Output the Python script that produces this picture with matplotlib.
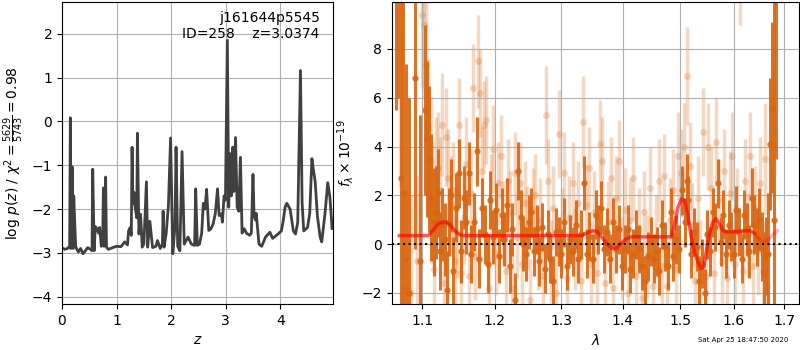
import numpy as np
import matplotlib
matplotlib.use("Agg")
import matplotlib.pyplot as plt
from matplotlib.ticker import FixedLocator, FixedFormatter, NullLocator

# --- p(z) curve (left) ---
zgrid = [0.00, 0.05, 0.10, 0.14, 0.153, 0.16, 0.18, 0.19, 0.205, 0.215, 0.25, 0.265,
         0.30, 0.34, 0.385, 0.43, 0.47, 0.52, 0.55, 0.563, 0.59, 0.61, 0.64, 0.67, 0.69,
         0.72, 0.745, 0.758, 0.77, 0.79, 0.80, 0.815, 0.85, 0.93, 1.00, 1.08, 1.15, 1.20,
         1.22, 1.25, 1.27, 1.284, 1.30, 1.32, 1.34, 1.37, 1.382, 1.41, 1.44, 1.47, 1.50,
         1.547, 1.57, 1.61, 1.66, 1.72, 1.75, 1.80, 1.84, 1.853, 1.87, 1.91, 1.95, 1.99,
         2.03, 2.07, 2.09, 2.12, 2.16, 2.20, 2.24, 2.31, 2.37, 2.43, 2.45, 2.48, 2.52,
         2.56, 2.59, 2.62, 2.65, 2.69, 2.73, 2.77, 2.81, 2.85, 2.88, 2.92, 2.94, 2.97,
         2.995, 3.03, 3.055, 3.08, 3.105, 3.13, 3.15, 3.18, 3.21, 3.24, 3.27, 3.30, 3.34,
         3.38, 3.44, 3.47, 3.50, 3.52, 3.545, 3.56, 3.61, 3.66, 3.73, 3.81, 3.86, 3.96,
         4.02, 4.05, 4.09, 4.12, 4.18, 4.24, 4.28, 4.32, 4.37, 4.40, 4.43, 4.50, 4.54,
         4.58, 4.60, 4.64, 4.68, 4.73, 4.76, 4.82, 4.87, 4.91, 4.95, 4.97]
logpz = [-2.88, -2.92, -2.9, -2.85, 0.08, -2.9, -2.85, -1.04, -2.9, -1.7, -2.85, -2.9,
         -2.98, -2.9, -3.02, -2.95, -2.88, -2.92, -2.95, -1.09, -2.95, -2.4, -2.45, -2.55,
         -2.42, -2.85, -2.8, -1.52, -2.85, -2.8, -1.27, -2.87, -2.92, -2.88, -2.85, -2.86,
         -2.75, -2.82, -2.5, -2.42, -2.6, -0.59, -1.88, -1.62, -1.96, -2.2, -0.27, -2.57,
         -2.12, -2.87, -2.8, -1.38, -2.87, -2.28, -2.88, -2.85, -2.72, -2.9, -2.8, -2.05,
         -2.87, -2.55, -1.92, -0.38, -3.02, -2.4, -0.59, -2.85, -2.95, -0.69, -2.8, -2.64,
         -2.8, -2.83, -1.54, -2.83, -2.8, -2.55, -1.87, -2.0, -1.55, -2.49, -2.45, -2.34,
         -2.1, -1.54, -2.15, -2.11, -2.3, -1.7, -1.8, 1.85, -1.96, -0.74, -1.7, -0.59,
         -1.6, -0.37, -1.96, -2.05, -0.82, -2.55, -2.45, -2.55, -2.6, -2.55, -1.21,
         -2.15, -2.25, -2.1, -2.8, -2.85, -2.64, -2.53, -2.67, -2.57, -2.5, -2.3, -1.95,
         -1.87, -2.0, -2.5, -2.57, -2.3, 1.16, -1.85, -2.5, -2.42, -2.1, -0.85, -1.04,
         -1.38, -2.15, -2.64, -2.75, -2.1, -1.4, -1.73, -2.45, -2.3]

# --- spectrum, first set (dark points) ---
wave1 = [1.066, 1.068, 1.072, 1.075, 1.079, 1.083, 1.090, 1.097, 1.103, 1.106, 1.109,
         1.112, 1.115, 1.118, 1.121, 1.124, 1.127, 1.130, 1.133, 1.136, 1.139, 1.142,
         1.146, 1.149, 1.152, 1.156, 1.160, 1.164, 1.167, 1.171, 1.175, 1.178, 1.182,
         1.186, 1.190, 1.194, 1.198, 1.202, 1.206, 1.210, 1.214, 1.218, 1.222, 1.226,
         1.230, 1.234, 1.238, 1.242, 1.246, 1.250, 1.254, 1.258, 1.262, 1.266, 1.270,
         1.275, 1.279, 1.283, 1.288, 1.292, 1.296, 1.300, 1.305, 1.309, 1.314, 1.318,
         1.323, 1.327, 1.332, 1.336, 1.341, 1.345, 1.350, 1.355, 1.359, 1.364, 1.369,
         1.373, 1.378, 1.383, 1.388, 1.393, 1.398, 1.403, 1.408, 1.413, 1.418, 1.423,
         1.428, 1.433, 1.438, 1.443, 1.448, 1.453, 1.458, 1.463, 1.468, 1.473, 1.478,
         1.483, 1.488, 1.493, 1.498, 1.503, 1.508, 1.512, 1.515, 1.520, 1.525, 1.530,
         1.535, 1.540, 1.545, 1.550, 1.555, 1.560, 1.565, 1.570, 1.575, 1.580, 1.585,
         1.590, 1.595, 1.600, 1.605, 1.610, 1.615, 1.620, 1.625, 1.630, 1.635, 1.640,
         1.645, 1.650, 1.655, 1.660, 1.664, 1.668, 1.671, 1.675, 1.679, 1.683]
flux1 = [11.5, 12.0, 2.7, 2.1, -0.6, -2.0, 6.8, -0.7, 5.5, 4.3, 3.5, 1.9, 0.9, 1.3, 2.1,
         -0.3, 0.8, 0.2, -1.9, 0.9, 2.0, -1.1, 1.5, 2.9, -0.3, 1.9, 0.9, 2.9, -0.4, 0.9,
         3.8, -0.6, 1.5, 0.4, -0.8, 1.8, 0.3, 1.4, -0.5, 1.2, 0.2, 1.6, -0.9, 0.6, -2.3,
         3.0, 1.1, 0.0, -0.4, 0.9, 1.3, -0.3, 0.6, -0.7, 0.7, -1.0, 0.4, -0.6, -1.5, 0.5,
         0.1, -0.4, 0.9, -0.9, 0.2, -0.3, 0.8, -0.6, 0.4, 2.5, -0.4, 0.3, -0.6, 1.2, 0.6,
         1.5, -0.2, 0.5, -0.6, 0.9, -0.2, 0.6, -0.9, -0.2, 0.6, -1.0, -0.4, 0.4, -0.2,
         -0.9, -1.5, -0.5, 0.1, -0.6, -0.3, -1.1, 0.8, -0.1, -0.9, 1.3, -0.5, 0.2, -0.2,
         2.2, 0.9, 2.6, 1.8, -0.4, 0.5, -0.1, -1.5, -0.8, -2.0, 0.4, -0.3, 1.3, 0.7, 2.5,
         0.1, 1.2, -0.4, 0.8, 0.3, -0.4, 1.4, 0.5, -0.6, 1.2, 0.6, -0.3, 1.9, 0.8, 0.3,
         1.0, -0.1, -1.2, -0.5, -0.4, 4.1, 5.6, 1.0, 11.0]
err1 = [6.0, 6.0, 9.0, 8.0, 8.0, 8.0, 7.0, 6.0, 3.5, 3.2, 3.0, 2.6, 2.2, 1.9, 1.8, 1.6,
        1.5, 1.5, 1.6, 1.4, 1.5, 1.4, 1.4, 1.4, 1.3, 1.3, 1.3, 1.3, 1.2, 1.2, 1.4, 1.2,
        1.2, 1.2, 1.2, 1.2, 1.1, 1.1, 1.1, 1.1, 1.1, 1.1, 1.1, 1.1, 1.1, 1.2, 1.1, 1.1,
        1.1, 1.1, 1.0, 1.0, 1.0, 1.0, 1.0, 1.0, 1.0, 1.0, 1.0, 1.0, 1.0, 1.0, 1.0, 1.0,
        1.0, 1.0, 1.0, 1.0, 1.0, 1.1, 1.0, 1.0, 1.0, 1.0, 1.0, 1.1, 1.0, 1.0, 1.0, 1.0,
        1.0, 1.0, 1.0, 1.0, 1.0, 1.0, 1.0, 1.0, 1.0, 1.0, 1.0, 1.0, 1.0, 1.0, 1.0, 1.0,
        1.0, 1.0, 1.0, 1.0, 1.0, 1.0, 1.0, 1.0, 1.0, 1.1, 1.0, 1.0, 1.0, 1.0, 1.0, 1.0,
        1.0, 1.0, 1.0, 1.0, 1.0, 1.0, 1.0, 1.0, 1.0, 1.0, 1.0, 1.0, 1.0, 1.0, 1.0, 1.0,
        1.1, 1.1, 1.2, 1.2, 1.2, 1.3, 1.4, 1.7, 1.6, 2.5, 2.7, 3.5, 11.0, 7.5]

# --- spectrum, second set (light points) ---
wave2 = [1.071, 1.076, 1.080, 1.085, 1.093, 1.100, 1.102, 1.105, 1.108, 1.111, 1.113,
         1.116, 1.118, 1.121, 1.124, 1.127, 1.129, 1.132, 1.135, 1.138, 1.141, 1.144,
         1.147, 1.150, 1.153, 1.157, 1.160, 1.163, 1.166, 1.169, 1.172, 1.176, 1.179,
         1.182, 1.185, 1.188, 1.192, 1.195, 1.198, 1.202, 1.205, 1.209, 1.212, 1.216,
         1.219, 1.223, 1.226, 1.230, 1.233, 1.237, 1.240, 1.244, 1.248, 1.252, 1.256,
         1.260, 1.264, 1.268, 1.272, 1.276, 1.280, 1.284, 1.288, 1.292, 1.297, 1.301,
         1.305, 1.309, 1.313, 1.318, 1.322, 1.326, 1.331, 1.335, 1.339, 1.344, 1.348,
         1.353, 1.357, 1.362, 1.366, 1.371, 1.375, 1.380, 1.384, 1.389, 1.393, 1.398,
         1.403, 1.408, 1.412, 1.417, 1.422, 1.427, 1.432, 1.437, 1.442, 1.447, 1.452,
         1.457, 1.462, 1.467, 1.472, 1.477, 1.482, 1.487, 1.492, 1.497, 1.502, 1.507,
         1.512, 1.517, 1.522, 1.527, 1.532, 1.537, 1.542, 1.547, 1.552, 1.557, 1.562,
         1.567, 1.572, 1.577, 1.582, 1.587, 1.592, 1.597, 1.602, 1.607, 1.612, 1.617,
         1.622, 1.627, 1.632, 1.637, 1.642, 1.647, 1.652, 1.657, 1.662, 1.666]
flux2 = [8.3, -1.7, -1.8, -2.0, -0.7, 9.4, 9.0, 7.3, 4.8, 3.4, 1.7, -1.0, 2.8, 3.1, 2.2,
         4.9, -1.6, 4.4, 2.7, 1.6, 2.2, -0.7, 0.5, 4.9, -1.2, 1.1, 3.3, -1.3, 2.1, 6.4,
         -0.5, 7.5, 6.2, 3.0, 4.9, 5.1, -1.8, 1.9, 3.9, -0.4, 2.5, 3.6, 0.9, -1.1, 2.6,
         1.3, -1.8, 2.9, 0.3, 2.5, -0.8, 1.7, 0.7, -2.3, 1.4, 2.0, -0.2, 1.0, -1.3, 5.3,
         2.6, -0.7, 1.5, -2.0, 4.5, 0.6, 2.9, -1.4, 1.1, 2.5, -0.2, 1.7, -1.5, 5.0, 1.6,
         3.1, -0.8, 1.3, -1.2, 4.1, 3.4, -1.6, 0.9, 2.7, -1.8, 1.9, 3.4, -0.6, 1.4, -2.0,
         1.0, 2.7, -1.3, 0.6, -2.2, 1.3, -0.5, 2.3, -1.7, 0.3, 2.6, -0.9, 2.8, -1.7, 1.0,
         2.2, -1.0, 3.6, 2.9, 4.0, 6.9, 3.2, 0.8, -1.5, 1.9, -0.7, 4.6, -1.3, 4.0, 2.3,
         -1.2, 4.2, 1.8, -0.7, 3.0, -1.4, 2.1, 3.6, -0.8, 1.4, 11.0, -1.1, 2.6, 0.4, 3.6,
         -0.9, 1.5, -0.3, 2.5, -1.1, 3.5, -1.7]
err2 = [6.0, 4.0, 4.0, 4.0, 3.5, 3.0, 3.0, 3.0, 2.8, 2.6, 2.5, 2.4, 2.4, 2.3, 2.2, 2.1,
        2.1, 2.0, 2.0, 2.0, 2.0, 1.9, 1.9, 1.9, 1.9, 1.9, 1.9, 1.8, 1.8, 1.8, 1.8, 1.9,
        1.8, 1.8, 1.8, 1.8, 1.8, 1.8, 1.8, 1.7, 1.7, 1.7, 1.7, 1.7, 1.7, 1.7, 1.7, 1.7,
        1.7, 1.7, 1.7, 1.7, 1.7, 1.7, 1.7, 1.7, 1.7, 1.7, 1.7, 2.0, 1.7, 1.7, 1.7, 1.7,
        1.8, 1.7, 1.7, 1.7, 1.7, 1.7, 1.7, 1.7, 1.7, 1.9, 1.7, 1.7, 1.7, 1.7, 1.7, 1.8,
        1.8, 1.7, 1.7, 1.7, 1.7, 1.7, 1.7, 1.7, 1.7, 1.7, 1.7, 1.7, 1.7, 1.7, 1.7, 1.7,
        1.7, 1.7, 1.7, 1.7, 1.7, 1.7, 1.7, 1.7, 1.7, 1.7, 1.7, 1.8, 1.8, 1.8, 2.0, 1.8,
        1.7, 1.7, 1.7, 1.7, 1.8, 1.7, 1.8, 1.7, 1.7, 1.8, 1.7, 1.7, 1.7, 1.7, 1.7, 1.8,
        1.7, 1.7, 2.0, 1.7, 1.7, 1.7, 1.8, 1.7, 1.7, 1.8, 1.9, 2.0, 2.3, 2.6]

# --- best-fit model ---
wave_model = [1.070, 1.090, 1.108, 1.115, 1.122, 1.130, 1.137, 1.144, 1.150, 1.156,
              1.200, 1.300, 1.332, 1.340, 1.350, 1.358, 1.366, 1.374, 1.382, 1.390,
              1.398, 1.406, 1.414, 1.440, 1.484, 1.490, 1.496, 1.502, 1.508, 1.514,
              1.520, 1.526, 1.532, 1.538, 1.543, 1.548, 1.554, 1.560, 1.566, 1.572,
              1.578, 1.584, 1.600, 1.620, 1.632, 1.640]
flux_model = [0.35, 0.35, 0.35, 0.6, 0.85, 0.92, 0.8, 0.55, 0.4, 0.35, 0.35, 0.35, 0.35,
              0.45, 0.55, 0.5, 0.25, 0.0, -0.18, -0.15, 0.05, 0.22, 0.3, 0.3, 0.3, 0.8,
              1.5, 1.85, 1.8, 1.2, 0.3, -0.3, -0.7, -1.0, -0.95, -0.3, 0.4, 0.9, 1.05,
              0.85, 0.6, 0.5, 0.5, 0.55, 0.55, 0.45]
wave_model_end = [1.640, 1.648, 1.656, 1.664, 1.672, 1.680, 1.686]
flux_model_end = [0.45, 0.25, 0.1, 0.12, 0.28, 0.45, 0.55]

orange = '#d9650f'

fig = plt.figure(figsize=(8, 3.5), dpi=100)
ax1 = fig.add_axes([0.0775, 0.131, 0.339, 0.863])
ax2 = fig.add_axes([0.49, 0.131, 0.509, 0.863])

# left: redshift probability
ax1.plot(zgrid, logpz, color='0.25', lw=2)
ax1.set_xlim(0, 4.97)
ax1.set_ylim(-4.17, 2.72)
ax1.set_xticks([0, 1, 2, 3, 4])
ax1.set_yticks([-4, -3, -2, -1, 0, 1, 2])
ax1.set_xlabel(r'$z$')
ax1.set_ylabel(r'$\log\,p(z)$ / $\chi^2=\frac{5629}{5743}=0.98$')
ax1.text(0.95, 0.97, 'j161644p5545\nID=258    z=3.0374', transform=ax1.transAxes,
         ha='right', va='top', fontsize=10)
ax1.grid(True)

# right: spectrum
ax2.errorbar(wave2, flux2, yerr=err2, fmt='o', color=orange, alpha=0.25,
             ms=5, lw=2.5, mec='none', zorder=1)
ax2.errorbar(wave1, flux1, yerr=err1, fmt='o', color=orange, alpha=0.9,
             ms=4.5, lw=2.2, mec='none', zorder=2)
ax2.plot(wave_model, flux_model, color='r', alpha=0.65, lw=2.5, zorder=3)
ax2.plot(wave_model_end, flux_model_end, color='r', alpha=0.3, lw=2.5, zorder=3)
ax2.axhline(0, color='k', linestyle=':', lw=1.5, zorder=4)

ax2.set_xscale('log')
ax2.set_xlim(1.0606, 1.731)
ax2.set_ylim(-2.46, 9.92)
ticks = [1.1, 1.2, 1.3, 1.4, 1.5, 1.6, 1.7]
ax2.xaxis.set_major_locator(FixedLocator(ticks))
ax2.xaxis.set_major_formatter(FixedFormatter([f'{t:.1f}' for t in ticks]))
ax2.xaxis.set_minor_locator(NullLocator())
ax2.set_yticks([-2, 0, 2, 4, 6, 8])
ax2.set_xlabel(r'$\lambda$')
ax2.set_ylabel(r'$f_\lambda\times10^{-19}$')
ax2.grid(True)

fig.text(0.985, 0.029, 'Sat Apr 25 18:47:50 2020', ha='right', va='center', fontsize=5)

fig.savefig('out.png', dpi=100)
